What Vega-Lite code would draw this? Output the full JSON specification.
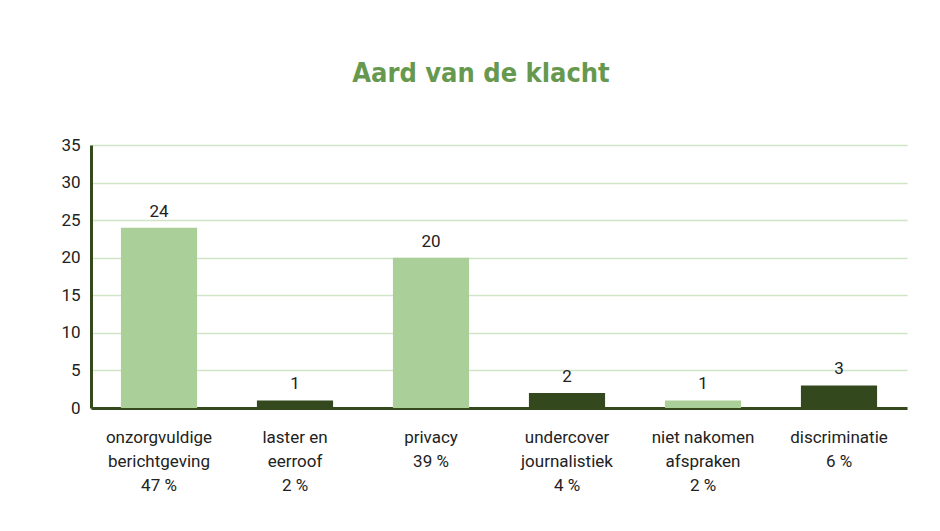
{
  "$schema": "https://vega.github.io/schema/vega-lite/v6.json",
  "width": 816,
  "height": 263,
  "autosize": {"type": "none"},
  "padding": {"left": 91, "top": 145, "right": 33, "bottom": 123},
  "background": "white",
  "title": {
    "text": "Aard van de klacht",
    "font": "DejaVu Sans Condensed",
    "fontWeight": "bold",
    "fontSize": 27,
    "color": "#66994f",
    "anchor": "middle",
    "frame": "group",
    "dx": -18,
    "offset": 48
  },
  "data": {
    "values": [
      {"cat": "onzorgvuldige|berichtgeving|47 %", "n": 24},
      {"cat": "laster en|eerroof|2 %", "n": 1},
      {"cat": "privacy|39 %", "n": 20},
      {"cat": "undercover|journalistiek|4 %", "n": 2},
      {"cat": "niet nakomen|afspraken|2 %", "n": 1},
      {"cat": "discriminatie|6 %", "n": 3}
    ]
  },
  "config": {
    "view": {"stroke": null},
    "font": "Roboto"
  },
  "encoding": {
    "x": {
      "field": "cat",
      "type": "nominal",
      "sort": null,
      "scale": {"paddingInner": 0.44, "paddingOuter": 0.22},
      "axis": {
        "title": null,
        "labelAngle": 0,
        "labelExpr": "split(datum.label, '|')",
        "labelFontSize": 17,
        "labelColor": "#222222",
        "labelLineHeight": 24,
        "labelPadding": 29,
        "ticks": false,
        "domainColor": "#344a1c",
        "domainWidth": 3,
        "labelBaseline": "middle"
      }
    },
    "y": {
      "field": "n",
      "type": "quantitative",
      "scale": {"domain": [0, 35]},
      "axis": {
        "title": null,
        "values": [0, 5, 10, 15, 20, 25, 30, 35],
        "labelFontSize": 17,
        "labelColor": "#222222",
        "labelPadding": 11,
        "ticks": false,
        "domainColor": "#344a1c",
        "domainWidth": 3,
        "gridColor": "#cfe5c6",
        "gridWidth": 1.5
      }
    }
  },
  "layer": [
    {
      "mark": {"type": "bar"},
      "encoding": {
        "color": {
          "field": "cat",
          "type": "nominal",
          "legend": null,
          "scale": {
            "domain": ["onzorgvuldige|berichtgeving|47 %", "laster en|eerroof|2 %", "privacy|39 %", "undercover|journalistiek|4 %", "niet nakomen|afspraken|2 %", "discriminatie|6 %"],
            "range": ["#abcf98", "#33481c", "#abcf98", "#33481c", "#abcf98", "#33481c"]
          }
        }
      }
    },
    {
      "mark": {"type": "text", "dy": -7, "fontSize": 17, "color": "#222222", "baseline": "bottom"},
      "encoding": {"text": {"field": "n", "type": "quantitative"}}
    }
  ]
}
